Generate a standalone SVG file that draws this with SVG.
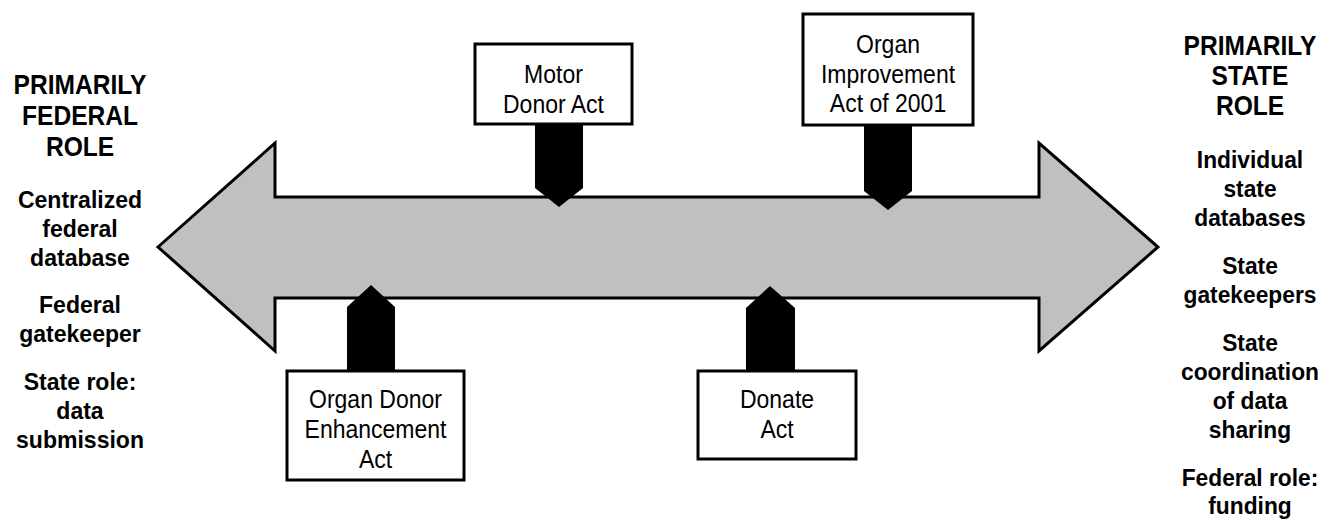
<svg xmlns="http://www.w3.org/2000/svg" width="1320" height="521" viewBox="0 0 1320 521">
<style>
  .hdr { font-family: "Liberation Sans", Arial, sans-serif; font-weight: bold; font-size: 27px; fill: #000; text-anchor: middle; }
  .itm { font-family: "Liberation Sans", Arial, sans-serif; font-weight: bold; font-size: 24px; fill: #000; text-anchor: middle; }
  .lbl { font-family: "Liberation Sans", Arial, sans-serif; font-size: 25px; fill: #000; text-anchor: middle; }
  .box { fill: #fff; stroke: #000; stroke-width: 3; }
  .ptr { fill: #000; stroke: none; }
  .arrow { fill: #c0c0c0; stroke: #000; stroke-width: 3; stroke-linejoin: miter; }
</style>
<rect width="1320" height="521" fill="#fff"/>

<g id="spectrum-arrow">
  <polygon class="arrow" points="158,247 275,143 275,197 1039,197 1039,143 1158,247 1039,351 1039,298 275,298 275,351"/>
</g>

<g id="connectors">
  <polygon class="ptr" points="535,124 583,124 583,188 559,207 535,188"/>
  <polygon class="ptr" points="864,125 912,125 912,191 888,210 864,191"/>
  <polygon class="ptr" points="347,371 395,371 395,307 371,285 347,307"/>
  <polygon class="ptr" points="746,371 795,371 795,308 770,286 746,308"/>
</g>

<g id="motor-donor-act">
  <rect class="box" x="475" y="44" width="157" height="80"/>
  <g transform="translate(553.5,0) scale(0.92,1)">
    <text class="lbl" x="0" y="83">Motor</text>
    <text class="lbl" x="0" y="113">Donor Act</text>
  </g>
</g>

<g id="organ-improvement-act">
  <rect class="box" x="803" y="14" width="170" height="111"/>
  <g transform="translate(888,0) scale(0.92,1)">
    <text class="lbl" x="0" y="53">Organ</text>
    <text class="lbl" x="0" y="83">Improvement</text>
    <text class="lbl" x="0" y="112">Act of 2001</text>
  </g>
</g>

<g id="organ-donor-enhancement-act">
  <rect class="box" x="287" y="371" width="177" height="109"/>
  <g transform="translate(375.5,0) scale(0.92,1)">
    <text class="lbl" x="0" y="408">Organ Donor</text>
    <text class="lbl" x="0" y="438">Enhancement</text>
    <text class="lbl" x="0" y="468">Act</text>
  </g>
</g>

<g id="donate-act">
  <rect class="box" x="698" y="371" width="158" height="88"/>
  <g transform="translate(777,0) scale(0.92,1)">
    <text class="lbl" x="0" y="408">Donate</text>
    <text class="lbl" x="0" y="438">Act</text>
  </g>
</g>

<g id="federal-role">
  <g transform="translate(80,0) scale(0.91,1)">
    <text class="hdr" x="0" y="94">PRIMARILY</text>
    <text class="hdr" x="0" y="125">FEDERAL</text>
    <text class="hdr" x="0" y="156">ROLE</text>
  </g>
  <g transform="translate(80,0) scale(0.96,1)">
    <text class="itm" x="0" y="208">Centralized</text>
    <text class="itm" x="0" y="237">federal</text>
    <text class="itm" x="0" y="266">database</text>
    <text class="itm" x="0" y="313">Federal</text>
    <text class="itm" x="0" y="342">gatekeeper</text>
    <text class="itm" x="0" y="390">State role:</text>
    <text class="itm" x="0" y="419">data</text>
    <text class="itm" x="0" y="448">submission</text>
  </g>
</g>

<g id="state-role">
  <g transform="translate(1250,0) scale(0.91,1)">
    <text class="hdr" x="0" y="55">PRIMARILY</text>
    <text class="hdr" x="0" y="85">STATE</text>
    <text class="hdr" x="0" y="115">ROLE</text>
  </g>
  <g transform="translate(1250,0) scale(0.95,1)">
    <text class="itm" x="0" y="168">Individual</text>
    <text class="itm" x="0" y="197">state</text>
    <text class="itm" x="0" y="226">databases</text>
    <text class="itm" x="0" y="274">State</text>
    <text class="itm" x="0" y="303">gatekeepers</text>
    <text class="itm" x="0" y="351">State</text>
    <text class="itm" x="0" y="380">coordination</text>
    <text class="itm" x="0" y="409">of data</text>
    <text class="itm" x="0" y="438">sharing</text>
    <text class="itm" x="0" y="486">Federal role:</text>
    <text class="itm" x="0" y="514">funding</text>
  </g>
</g>
</svg>
